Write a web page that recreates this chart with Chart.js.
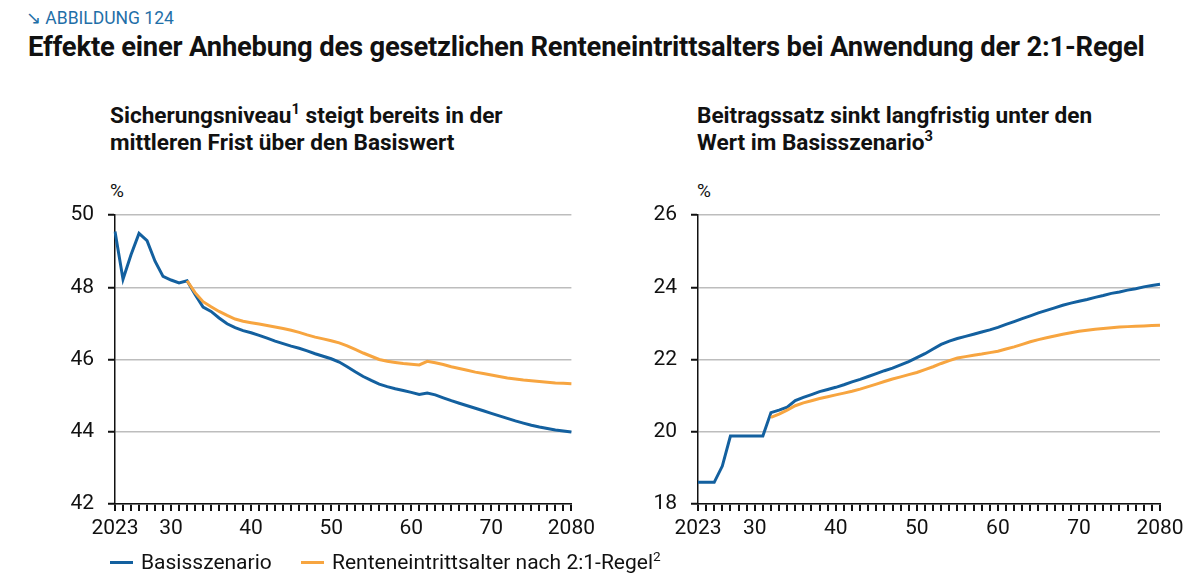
<!DOCTYPE html>
<html>
<head>
<meta charset="utf-8">
<script src="https://cdn.jsdelivr.net/npm/chart.js@4.4.1/dist/chart.umd.min.js"></script>
<style>
  body { margin: 0; width: 1200px; height: 582px; background: #fff; font-family: Roboto, "Noto Sans", sans-serif; color: #111; position: relative; overflow: hidden; }
  .abs { position: absolute; white-space: nowrap; }
  #fig { left: 26px; top: 8px; font-size: 17.5px; color: #1f6fa8; }
  #title { left: 28px; top: 31px; font-size: 27.4px; font-weight: bold; letter-spacing: -0.2px; }
  .sub { font-size: 22.6px; font-weight: bold; line-height: 27px; }
  .unit { font-size: 19px; }
  .box { position: absolute; }
  #legend { left: 110px; top: 550px; font-size: 21px; }
  #legend span.sw { display: inline-block; width: 23px; height: 3px; vertical-align: middle; margin-right: 8px; position: relative; top: -1px; }
  sup { font-size: 0.65em; line-height: 0; }
</style>
</head>
<body>
<div class="abs" id="fig">↘ ABBILDUNG 124</div>
<div class="abs" id="title">Effekte einer Anhebung des gesetzlichen Renteneintrittsalters bei Anwendung der 2:1-Regel</div>

<div class="abs sub" style="left:110px; top:102px;">Sicherungsniveau<sup>1</sup> steigt bereits in der<br>mittleren Frist über den Basiswert</div>
<div class="abs sub" style="left:697px; top:102px;">Beitragssatz sinkt langfristig unter den<br>Wert im Basisszenario<sup>3</sup></div>

<div class="abs unit" style="left:110px; top:179px;">%</div>
<div class="abs unit" style="left:697px; top:179px;">%</div>

<div class="box" style="left:50px; top:195px; width:550px; height:355px;"><canvas id="leftChart"></canvas></div>
<div class="box" style="left:633px; top:195px; width:560px; height:355px;"><canvas id="rightChart"></canvas></div>

<div class="abs" id="legend">
  <span class="sw" style="background:#13609f;"></span>Basisszenario
  <span class="sw" style="background:#f7a540; margin-left:24px;"></span>Renteneintrittsalter nach 2:1-Regel<sup>2</sup>
</div>

<script>
var years = [];
for (var y = 2023; y <= 2080; y++) years.push(y);

var xLabels = { 2023: '2023', 2030: '30', 2040: '40', 2050: '50', 2060: '60', 2070: '70', 2080: '2080' };

// Sicherungsniveau (%)
var niveauBasis = [
  49.54, 48.22, 48.9, 49.49, 49.29, 48.72, 48.3, 48.2, 48.12, 48.18,
  47.8, 47.45, 47.33, 47.15, 46.99, 46.88, 46.8, 46.74, 46.67, 46.59,
  46.51, 46.44, 46.37, 46.31, 46.24, 46.16, 46.09, 46.02, 45.93, 45.8,
  45.66, 45.53, 45.42, 45.32, 45.25, 45.19, 45.14, 45.09, 45.03, 45.07,
  45.02, 44.94, 44.86, 44.79, 44.72, 44.65, 44.58, 44.51, 44.44, 44.37,
  44.3, 44.24, 44.18, 44.13, 44.09, 44.05, 44.02, 43.99
];
var niveauRegel = [
  null, null, null, null, null, null, null, null, null, 48.18,
  47.85, 47.6, 47.46, 47.33, 47.22, 47.12, 47.06, 47.02, 46.98, 46.94,
  46.9, 46.86, 46.81, 46.75, 46.68, 46.62, 46.57, 46.52, 46.46, 46.38,
  46.28, 46.18, 46.09, 46.0, 45.95, 45.92, 45.89, 45.87, 45.85, 45.95,
  45.91, 45.86, 45.8, 45.75, 45.7, 45.65, 45.61, 45.57, 45.53, 45.49,
  45.46, 45.43, 45.41, 45.39, 45.37, 45.35, 45.34, 45.33
];

// Beitragssatz (%)
var beitragBasis = [
  18.6, 18.6, 18.6, 19.05, 19.88, 19.88, 19.88, 19.88, 19.88, 20.53,
  20.6, 20.68, 20.86, 20.95, 21.03, 21.11, 21.17, 21.23, 21.3, 21.38,
  21.45, 21.53, 21.61, 21.69, 21.76, 21.85, 21.94, 22.05, 22.16, 22.29,
  22.42, 22.51, 22.58, 22.64, 22.7, 22.76, 22.82, 22.89, 22.97, 23.05,
  23.13, 23.21, 23.29, 23.36, 23.43, 23.5, 23.56, 23.61, 23.66, 23.72,
  23.77, 23.83, 23.87, 23.92, 23.96, 24.01, 24.05, 24.08
];
var beitragRegel = [
  null, null, null, null, null, null, null, null, null, 20.4,
  20.49, 20.6, 20.72, 20.8, 20.86, 20.92, 20.97, 21.02, 21.07, 21.12,
  21.18, 21.25, 21.32, 21.39, 21.46, 21.52, 21.58, 21.64, 21.72, 21.8,
  21.89, 21.97, 22.04, 22.08, 22.12, 22.15, 22.19, 22.23, 22.29, 22.35,
  22.42, 22.49, 22.55, 22.6, 22.65, 22.7, 22.74, 22.78, 22.81, 22.84,
  22.86, 22.88, 22.9, 22.91, 22.92, 22.93, 22.94, 22.95
];

var blue = '#13609f';
var orange = '#f7a540';

Chart.defaults.font.family = 'Roboto, "Noto Sans", sans-serif';
Chart.defaults.font.size = 21;
Chart.defaults.color = '#111';

function makeChart(id, basis, regel, yMin, yMax, padRight) {
    var ctx = document.getElementById(id).getContext('2d');
    return new Chart(ctx, {
        type: 'line',
        data: {
            labels: years,
            datasets: [{
                label: 'Renteneintrittsalter nach 2:1-Regel',
                data: regel,
                borderColor: orange,
                borderWidth: 3,
                pointRadius: 0,
                tension: 0,
                spanGaps: false
            },
            {
                label: 'Basisszenario',
                data: basis,
                borderColor: blue,
                borderWidth: 3,
                pointRadius: 0,
                tension: 0
            }]
        },
        options: {
            responsive: true,
            maintainAspectRatio: false,
            animation: false,
            layout: { padding: { top: 0, right: padRight, left: 0, bottom: 0 } },
            plugins: {
                legend: { display: false },
                tooltip: { enabled: false }
            },
            scales: {
                x: {
                    type: 'category',
                    offset: false,
                    border: { color: '#111', width: 1.5 },
                    grid: {
                        drawOnChartArea: false,
                        drawTicks: true,
                        tickLength: 7,
                        color: '#111',
                        tickColor: '#111',
                        lineWidth: 2,
                        tickWidth: 2
                    },
                    ticks: {
                        autoSkip: false,
                        maxRotation: 0,
                        padding: 5,
                        callback: function (val, i) {
                            var yr = years[i];
                            return xLabels[yr] || ' ';
                        }
                    },
                    afterFit: function (scale) { scale.height = 46; }
                },
                y: {
                    min: yMin,
                    max: yMax,
                    border: { color: '#111', width: 1.5 },
                    grid: { color: '#bdbdbd', lineWidth: 1.5, tickLength: 7, tickColor: '#111', tickWidth: 2 },
                    ticks: { stepSize: 2, padding: 14 },
                    afterFit: function (scale) {
                        scale.width = 65;
                        scale.paddingTop = 20;
                    }
                }
            }
        }
    });
}

var leftChart = makeChart('leftChart', niveauBasis, niveauRegel, 42, 50, 27);
var rightChart = makeChart('rightChart', beitragBasis, beitragRegel, 18, 26, 33);
</script>
</body>
</html>
